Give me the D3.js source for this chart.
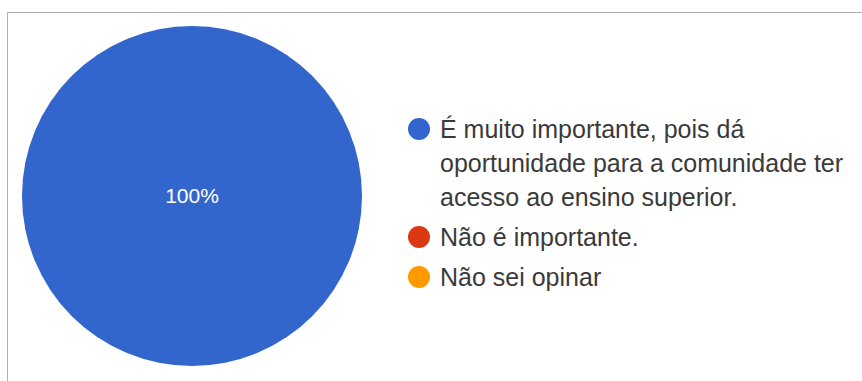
<!DOCTYPE html>
<html>
<head>
<meta charset="utf-8">
<script src="https://cdn.jsdelivr.net/npm/d3@7"></script>
<style>
  html, body { margin: 0; padding: 0; background: #fff; }
  svg { display: block; }
</style>
</head>
<body>
<svg id="chart" width="862" height="381"></svg>
<script>
// Survey answers and their share of responses (%)
const categories = [
  "É muito importante, pois dá oportunidade para a comunidade ter acesso ao ensino superior.",
  "Não é importante.",
  "Não sei opinar"
];
const values = [100, 0, 0];
const colors = ["#3366cc", "#dc3912", "#ff9900"];

const svg = d3.select("#chart");
const W = 862, H = 381;
const FONT = "'Liberation Sans', Arial, sans-serif";

// Card frame (top and left edges visible)
svg.append("line").attr("x1", 7.5).attr("x2", W).attr("y1", 12.5).attr("y2", 12.5)
  .attr("stroke", "#b0b0b0").attr("stroke-width", 1);
svg.append("line").attr("x1", 7.5).attr("x2", 7.5).attr("y1", 12.5).attr("y2", H)
  .attr("stroke", "#b0b0b0").attr("stroke-width", 1);

// Pie
const cx = 192, cy = 196, radius = 170;
const data = categories.map((c, i) => ({ name: c, value: values[i], color: colors[i] }));
const pie = d3.pie().sort(null).value(d => d.value);
const arc = d3.arc().innerRadius(0).outerRadius(radius);
const total = d3.sum(values);

const g = svg.append("g").attr("transform", `translate(${cx},${cy})`);
const arcs = pie(data).filter(d => d.data.value > 0);
g.selectAll("path.slice").data(arcs).join("path")
  .attr("class", "slice")
  .attr("d", arc)
  .attr("fill", d => d.data.color);

// Percentage labels: a full circle gets its label at the centre
const midArc = d3.arc().innerRadius(radius * 0.6).outerRadius(radius * 0.6);
g.selectAll("text.pct").data(arcs).join("text")
  .attr("class", "pct")
  .attr("transform", d => d.endAngle - d.startAngle >= 2 * Math.PI - 1e-6
    ? "translate(0,0)" : `translate(${midArc.centroid(d)})`)
  .attr("text-anchor", "middle")
  .attr("dy", "0.35em")
  .attr("font-family", FONT)
  .attr("font-size", 21)
  .attr("fill", "#ffffff")
  .text(d => Math.round(d.data.value / total * 100) + "%");

// Legend with word-wrapped labels
const legend = svg.append("g").attr("transform", "translate(419,0)");
const textX = 21, maxW = 412, lineH = 34, itemGap = 6;
let y = 138;
data.forEach(d => {
  const item = legend.append("g");
  const t = item.append("text")
    .attr("x", textX)
    .attr("font-family", FONT)
    .attr("font-size", 25)
    .attr("fill", "#3a3a3a");
  const words = d.name.split(" ");
  let line = [], lines = 0;
  let tspan = t.append("tspan").attr("x", textX).attr("y", y);
  words.forEach(w => {
    line.push(w);
    tspan.text(line.join(" "));
    if (tspan.node().getComputedTextLength() > maxW && line.length > 1) {
      line.pop();
      tspan.text(line.join(" "));
      line = [w];
      lines++;
      tspan = t.append("tspan").attr("x", textX).attr("y", y + lines * lineH).text(w);
    }
  });
  item.insert("circle", "text")
    .attr("cx", 0).attr("cy", y - 9).attr("r", 11)
    .attr("fill", d.color);
  y += (lines + 1) * lineH + itemGap;
});
</script>
</body>
</html>
